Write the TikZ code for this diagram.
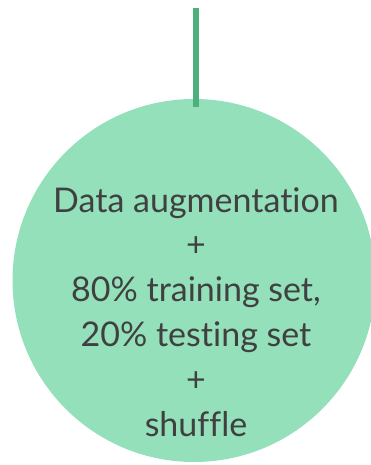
\documentclass[tikz,border=0pt]{standalone}
\usepackage{fontspec}
\setmainfont{Lato}[Ligatures=NoCommon]
\usepackage{tikz}

\definecolor{stepfill}{HTML}{93E0BB}
\definecolor{stepline}{HTML}{4DAF7C}
\definecolor{steptext}{HTML}{404040}

\begin{document}
\begin{tikzpicture}[x=1pt, y=-1pt,
    stepcircle/.style={circle, fill=stepfill, inner sep=0pt, minimum size=363pt},
    steplabel/.style={align=center, inner sep=0pt, text=steptext,
        font=\fontsize{34}{44.8}\selectfont},
    link/.style={stepline, line width=6pt}]
            \useasboundingbox (0, 0) rectangle (370, 465);
            \node[stepcircle] (split) at (194, 280.5) {};
            \coordinate (src) at (196, 8);
            \draw[link] (src) -- ([yshift=-8pt]src |- split.north);
            \node[steplabel, anchor=north] (steps) at (196, 187)
                {Data augmentation\\+\\80\% training set,\\20\% testing set\\+\\shuffle};
        \end{tikzpicture}
\end{document}
